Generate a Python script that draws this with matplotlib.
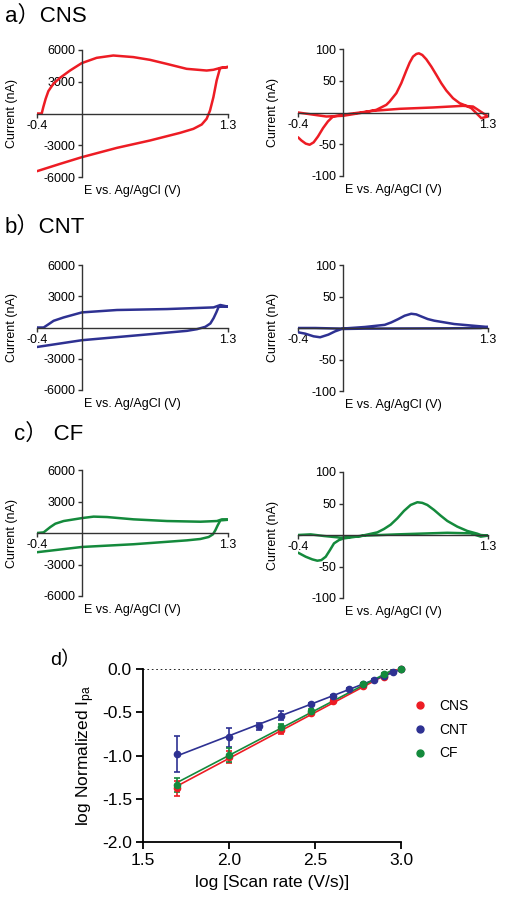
import numpy as np
import matplotlib.pyplot as plt
from matplotlib.lines import Line2D

plt.rcParams['font.family'] = ['Liberation Sans', 'Noto Sans CJK SC']
plt.rcParams['mathtext.default'] = 'regular'

# -----------------------------------------------------------------------------
# CV traces, potential (V) / current (nA)
cns_cv_E = [-0.4, -0.358, -0.344, -0.323, -0.299, -0.255, -0.195, -0.106, -0.002, 0.131, 0.279,
            0.457, 0.606, 0.754, 0.932, 1.11, 1.17, 1.229, 1.30,
            1.229, 1.199, 1.17, 1.14, 1.11, 1.066, 0.992, 0.873, 0.606,
            0.31, -0.002, -0.195, -0.4]
cns_cv_I = [0, 0, 600, 1390, 2110, 2800, 3370, 4060, 4760, 5260, 5480,
            5330, 5070, 4690, 4220, 4060, 4130, 4300, 4400,
            4280, 3120, 1540, 280, -500, -1040, -1450, -1830, -2550,
            -3250, -4130, -4760, -5450]

cns_fs_E = [-0.4, -0.296, -0.147, 0.003, 0.152, 0.301, 0.39, 0.42, 0.48, 0.524, 0.569, 0.599,
            0.629, 0.659, 0.682, 0.712, 0.748, 0.793, 0.838, 0.882, 0.927, 0.987, 1.046, 1.106,
            1.151, 1.195, 1.24, 1.3, 1.255, 1.166, 1.076, 0.808, 0.51, 0.271, 0.062, -0.087,
            -0.132, -0.176, -0.221, -0.26, -0.296, -0.331, -0.37, -0.4]
cns_fs_I = [0, -2.6, -6.3, -5.2, -1, 4.2, 12, 17.3, 30.4, 46.1, 66, 78.5,
            88, 92.2, 93.2, 90.6, 83.8, 72.3, 59.2, 46.1, 34.6, 22.5, 14.7, 10.5,
            6.8, -1, -8.9, -6.3, -1, 9.4, 10.5, 7.9, 5.8, 2.6, -2.1, -6.3,
            -14, -24.6, -37.7, -47, -50.8, -49, -44, -39]

cnt_cv_E = [-0.4, -0.341, -0.296, -0.252, -0.163, 0.0, 0.312, 0.757, 1.172, 1.232, 1.3,
            1.217, 1.196, 1.172, 1.143, 1.098, 1.024, 0.935, 0.609, 0.0, -0.4]
cnt_cv_I = [0, 0, 322, 644, 966, 1450, 1680, 1770, 1930, 2160, 2000,
            1990, 1450, 900, 386, 64, -160, -320, -640, -1220, -1870]

cnt_fs_E = [-0.4, -0.246, -0.009, 0.198, 0.376, 0.435, 0.495, 0.554, 0.613, 0.658, 0.702,
            0.761, 0.82, 0.998, 1.235, 1.3, 1.235, 0.939, 0.495, 0.198, -0.009, -0.068,
            -0.128, -0.202, -0.261, -0.335, -0.4]
cnt_fs_I = [0, 0, -1, 1.6, 5, 8.9, 14, 19.5, 22.6, 21.6, 18.4,
            14.2, 11.6, 6.3, 2.6, 1.6, 0, -0.5, -0.8, -1, -1.6, -5.3,
            -10.5, -14.7, -13.2, -9, -6.8]

cf_cv_E = [-0.4, -0.341, -0.311, -0.281, -0.237, -0.163, 0.0, 0.104, 0.223, 0.46, 0.757,
           1.054, 1.202, 1.246, 1.3, 1.232, 1.208, 1.187, 1.166, 1.128, 1.054, 0.935,
           0.46, 0.0, -0.4]
cf_cv_I = [0, 60, 316, 570, 885, 1140, 1420, 1560, 1520, 1300, 1140,
           1075, 1140, 1300, 1260, 1200, 727, 253, -126, -380, -570, -700,
           -1070, -1330, -1830]

cf_fs_E = [-0.4, -0.287, -0.167, -0.018, 0.161, 0.31, 0.369, 0.429, 0.489, 0.548, 0.608,
           0.668, 0.712, 0.757, 0.817, 0.876, 0.936, 1.025, 1.115, 1.204, 1.235, 1.3,
           1.235, 1.145, 0.936, 0.489, 0.191, 0.012, -0.033, -0.078, -0.114, -0.152,
           -0.191, -0.227, -0.272, -0.331, -0.4]
cf_fs_I = [0, 1, -1.6, -4.2, -1.6, 4.2, 9.5, 16.4, 26.5, 38.2, 47.7,
           52, 51, 47.7, 39.8, 30.8, 22.3, 13.3, 6.4, 2.1, 0, -1,
           -2.6, 2.6, 3.5, 1, -1, -5.3, -8, -13.3, -23.9, -34.5,
           -39.8, -40.8, -38.7, -34.5, -28]

# scan rate study (log-log)
logv_cns = [1.699, 2.0, 2.301, 2.477, 2.602, 2.778, 2.903, 3.0]
ipa_cns = [-1.38, -1.02, -0.71, -0.51, -0.37, -0.20, -0.09, 0.0]
err_cns = [0.09, 0.07, 0.04, 0.02, 0.02, 0.01, 0.01, 0.0]

logv_cnt = [1.699, 2.0, 2.176, 2.301, 2.477, 2.602, 2.699, 2.778, 2.845, 2.903, 2.954, 3.0]
ipa_cnt = [-0.98, -0.79, -0.66, -0.54, -0.40, -0.31, -0.23, -0.17, -0.13, -0.08, -0.04, 0.0]
err_cnt = [0.21, 0.11, 0.04, 0.05, 0.01, 0.01, 0.01, 0.01, 0.01, 0.01, 0.01, 0.0]

logv_cf = [1.699, 2.0, 2.301, 2.477, 2.778, 2.903, 3.0]
ipa_cf = [-1.34, -0.99, -0.67, -0.48, -0.17, -0.06, 0.0]
err_cf = [0.08, 0.08, 0.03, 0.02, 0.01, 0.01, 0.0]

RED = '#ED1C24'
BLUE = '#2E3192'
GREEN = '#148A3C'
AX = '#333333'

W, H = 507, 900


def rect(l, t, r, b):
    return [l / W, 1 - b / H, (r - l) / W, (b - t) / H]


# -----------------------------------------------------------------------------
def cv_panel(fig, box, E, I, color, lim, ticks):
    ax = fig.add_axes(box)
    ax.plot(E, I, color=color, lw=1.8, solid_joinstyle='round', solid_capstyle='round')
    ax.set_xlim(-0.4, 1.3)
    ax.set_ylim(-lim, lim)
    for s in ['top', 'right']:
        ax.spines[s].set_visible(False)
    ax.spines['left'].set_position(('data', 0))
    ax.spines['bottom'].set_position(('data', 0))
    for s in ['left', 'bottom']:
        ax.spines[s].set_color(AX)
        ax.spines[s].set_linewidth(1.0)
    ax.set_xticks([-0.4, 1.3])
    ax.set_xticklabels(['-0.4', '1.3'])
    ax.set_yticks(ticks)
    ax.set_yticklabels([str(t) for t in ticks])
    ax.tick_params(labelsize=9, length=3, width=1.0, color=AX, pad=1.5)
    ax.set_ylabel('Current (nA)', fontsize=9)
    ax.set_xlabel('E vs. Ag/AgCl (V)', fontsize=9)
    ax.yaxis.set_label_coords(-0.10, 0.5)
    ax.xaxis.set_label_coords(0.5, -0.06)
    ax.patch.set_alpha(0)
    return ax


fig = plt.figure(figsize=(W / 100, H / 100), dpi=100)

tkw = dict(fontsize=16, family=['Liberation Sans', 'Noto Sans CJK SC'], va='center')
fig.text(5 / W, 1 - 16 / H, 'a）CNS', **tkw)
fig.text(5 / W, 1 - 227 / H, 'b）CNT', **tkw)
fig.text(14 / W, 1 - 434 / H, 'c） CF', **tkw)

ci = [6000, 3000, -3000, -6000]
fi = [100, 50, -50, -100]
cv_panel(fig, rect(37, 50, 228, 177), cns_cv_E, cns_cv_I, RED, 6000, ci)
cv_panel(fig, rect(298, 49, 488, 176), cns_fs_E, cns_fs_I, RED, 100, fi)
cv_panel(fig, rect(37, 265, 228, 390), cnt_cv_E, cnt_cv_I, BLUE, 6000, ci)
cv_panel(fig, rect(298, 265, 488, 391), cnt_fs_E, cnt_fs_I, BLUE, 100, fi)
cv_panel(fig, rect(37, 470, 228, 596), cf_cv_E, cf_cv_I, GREEN, 6000, ci)
cv_panel(fig, rect(298, 472, 488, 598), cf_fs_E, cf_fs_I, GREEN, 100, fi)

# -----------------------------------------------------------------------------
# d) log Ipa vs log scan rate
ax = fig.add_axes(rect(143, 669, 401, 842))
ax.plot([1.5, 3.0], [0, 0], ls=':', color='k', lw=1.2, zorder=1)

series = [('CNS', logv_cns, ipa_cns, err_cns, RED),
          ('CNT', logv_cnt, ipa_cnt, err_cnt, BLUE),
          ('CF', logv_cf, ipa_cf, err_cf, GREEN)]
handles = []
for name, x, y, e, c in series:
    p = np.polyfit(x, y, 1)
    xx = np.array([min(x), max(x)])
    ax.plot(xx, np.polyval(p, xx), color=c, lw=1.2, zorder=2)
    ax.errorbar(x, y, yerr=e, fmt='o', ms=4.5, color=c, ecolor=c, elinewidth=1.2,
                capsize=2.5, capthick=1.2, zorder=3, clip_on=False)
    handles.append(Line2D([], [], marker='o', ls='none', ms=5, color=c, label=name))

ax.set_xlim(1.5, 3.0)
ax.set_ylim(-2.0, 0.0)
ax.set_xticks([1.5, 2.0, 2.5, 3.0])
ax.set_yticks([0.0, -0.5, -1.0, -1.5, -2.0])
ax.set_xticklabels(['1.5', '2.0', '2.5', '3.0'])
ax.set_yticklabels(['0.0', '-0.5', '-1.0', '-1.5', '-2.0'])
for s in ['top', 'right']:
    ax.spines[s].set_visible(False)
for s in ['left', 'bottom']:
    ax.spines[s].set_linewidth(1.3)
    ax.spines[s].set_color('k')
ax.tick_params(labelsize=12.5, length=5, width=1.3, pad=3)
ax.set_xlabel('log [Scan rate (V/s)]', fontsize=12.5)
ax.set_ylabel('log Normalized I$_{pa}$', fontsize=12.5)
ax.xaxis.set_label_coords(0.5, -0.19)
ax.yaxis.set_label_coords(-0.18, 0.5)
ax.legend(handles=handles, loc='upper left', bbox_to_anchor=(405 / W, 1 - 692 / H),
          bbox_transform=fig.transFigure, frameon=False, fontsize=10,
          handlelength=1.2, handletextpad=0.8, labelspacing=0.7, borderpad=0)

fig.text(50 / W, 1 - 660 / H, 'd）', fontsize=14, family=['Liberation Sans', 'Noto Sans CJK SC'],
         va='center')

plt.savefig('out.png', dpi=100)
